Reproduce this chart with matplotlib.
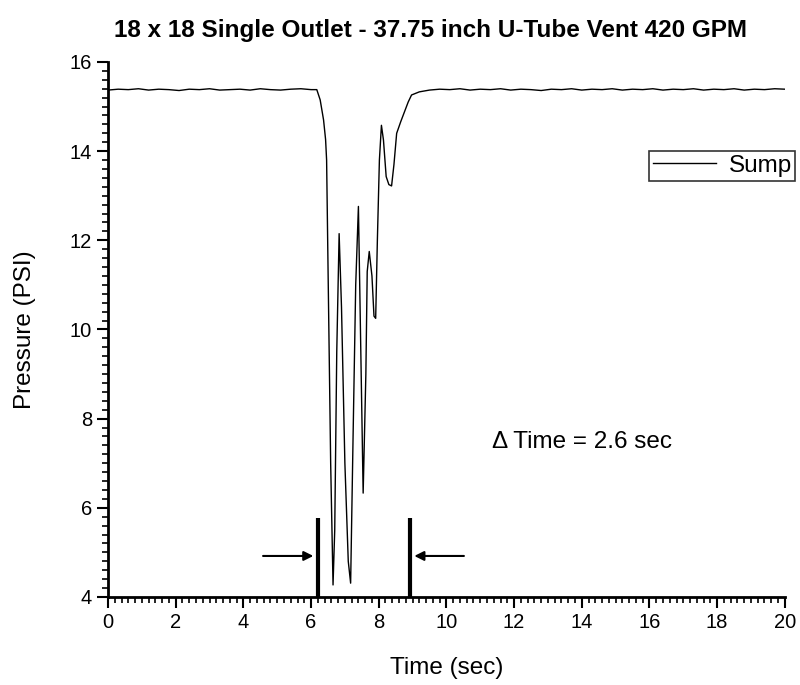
import numpy as np
import matplotlib
matplotlib.use("Agg")
import matplotlib.pyplot as plt
from matplotlib.ticker import MultipleLocator

plt.rcParams['font.family'] = ['Liberation Sans', 'DejaVu Sans']

## Data (time in sec, pressure in PSI)
tiempo = [0.0, 0.3, 0.6, 0.9, 1.2, 1.5, 1.8, 2.1, 2.4, 2.7, 3.0, 3.3, 3.6, 3.9,
          4.2, 4.5, 4.8, 5.1, 5.4, 5.7, 6.0, 6.17,
          6.27, 6.37, 6.43, 6.46, 6.50, 6.58, 6.65, 6.70, 6.76, 6.83, 6.90,
          7.00, 7.10, 7.17, 7.24, 7.32, 7.40, 7.46, 7.54, 7.62, 7.66, 7.72,
          7.80, 7.86, 7.91, 7.96, 8.02, 8.08, 8.14, 8.22, 8.30, 8.38, 8.45,
          8.53, 8.65, 8.77, 8.87, 8.97, 9.2, 9.5, 9.8,
          10.1, 10.4, 10.7, 11.0, 11.3, 11.6, 11.9, 12.2, 12.5, 12.8, 13.1,
          13.4, 13.7, 14.0, 14.3, 14.6, 14.9, 15.2, 15.5, 15.8, 16.1, 16.4,
          16.7, 17.0, 17.3, 17.6, 17.9, 18.2, 18.5, 18.8, 19.1, 19.4, 19.7, 20.0]
presion = [15.37, 15.39, 15.38, 15.40, 15.37, 15.39, 15.38, 15.36, 15.39, 15.38,
           15.40, 15.37, 15.38, 15.39, 15.37, 15.40, 15.38, 15.37, 15.39, 15.40,
           15.38, 15.38,
           15.15, 14.70, 14.26, 13.80, 11.50, 7.00, 4.27, 5.50, 9.50, 12.15, 10.50,
           7.00, 4.80, 4.31, 7.50, 11.00, 12.76, 10.00, 6.33, 9.00, 11.30, 11.75,
           11.20, 10.30, 10.25, 12.00, 13.80, 14.58, 14.25, 13.43, 13.25, 13.22, 13.70,
           14.40, 14.66, 14.90, 15.10, 15.26, 15.33, 15.37, 15.39,
           15.38, 15.40, 15.37, 15.39, 15.38, 15.40, 15.37, 15.39, 15.38, 15.36, 15.39,
           15.38, 15.40, 15.37, 15.39, 15.38, 15.40, 15.37, 15.39, 15.38, 15.40, 15.37,
           15.39, 15.38, 15.40, 15.37, 15.39, 15.38, 15.40, 15.37, 15.39, 15.38, 15.40, 15.39]

## Markers of the event start/end
t_inicio = 6.2
t_fin = 8.92
marca_alto = 5.77
flecha_y = 4.92

fig = plt.figure(figsize=(8, 6.85), dpi=100)
ax = fig.add_axes([0.135, 0.1285, 0.846, 0.781])

ax.plot(tiempo, presion, color="black", linewidth=1.0, label="Sump")

## Vertical markers and arrows
ax.vlines([t_inicio, t_fin], 4, marca_alto, colors="black", linewidth=3)
ax.annotate("", xy=(t_inicio - 0.05, flecha_y), xytext=(4.5, flecha_y),
            arrowprops=dict(arrowstyle="-|>", color="black", lw=1.5, mutation_scale=14))
ax.annotate("", xy=(t_fin + 0.05, flecha_y), xytext=(10.6, flecha_y),
            arrowprops=dict(arrowstyle="-|>", color="black", lw=1.5, mutation_scale=14))

ax.text(11.34, 7.48, "\u0394 Time = 2.6 sec", fontsize=17.5, va="center", ha="left")

## Axes
ax.set_xlim(0, 20)
ax.set_ylim(4, 16)
ax.xaxis.set_major_locator(MultipleLocator(2))
ax.xaxis.set_minor_locator(MultipleLocator(0.2))
ax.yaxis.set_major_locator(MultipleLocator(2))
ax.yaxis.set_minor_locator(MultipleLocator(0.2))
ax.spines["top"].set_visible(False)
ax.spines["right"].set_visible(False)
ax.spines["left"].set_linewidth(2)
ax.spines["bottom"].set_linewidth(2)
ax.tick_params(which="major", direction="out", length=8, width=1.5, labelsize=14.5)
ax.tick_params(which="minor", direction="out", length=4, width=1.2)

ax.set_xlabel("Time (sec)", fontsize=17.5, labelpad=18)
ax.set_ylabel("Pressure (PSI)", fontsize=17.5, labelpad=24)
ax.set_title("18 x 18 Single Outlet - 37.75 inch U-Tube Vent 420 GPM",
             fontsize=17.5, fontweight="bold", pad=18, x=0.476)

leg = ax.legend(loc="upper left", bbox_to_anchor=(0.80, 0.833), fontsize=17.5,
                frameon=True, fancybox=False, edgecolor="black", handlelength=2.6,
                borderpad=0.15, handletextpad=0.5, borderaxespad=0)
leg.get_frame().set_linewidth(1.2)

fig.savefig("out.png", dpi=100)
